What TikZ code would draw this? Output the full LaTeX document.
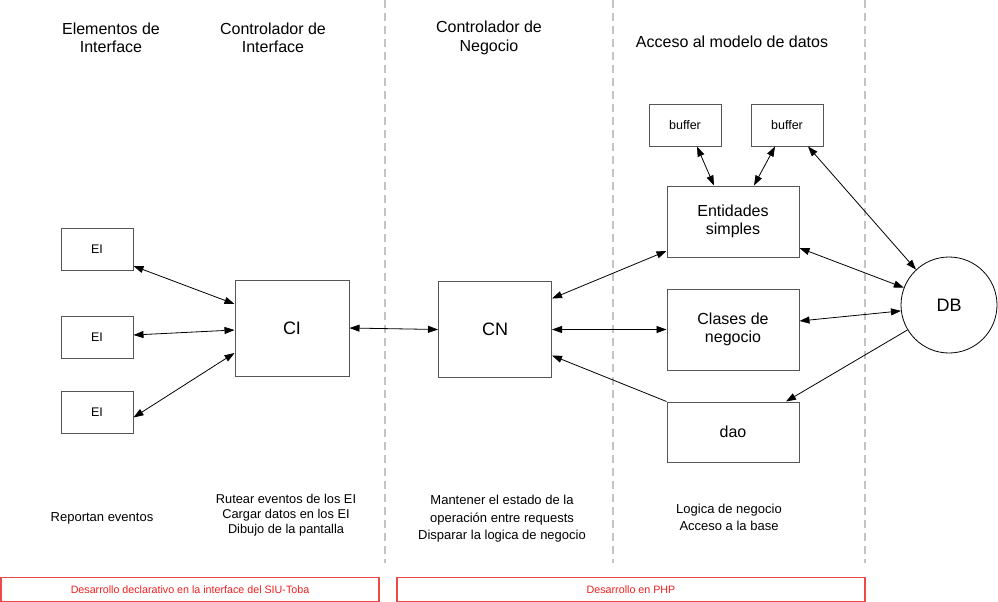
\documentclass[tikz,border=0pt]{standalone}
\usepackage{fontspec}
\setmainfont{Liberation Sans}
\usetikzlibrary{arrows.meta}
\definecolor{boxline}{HTML}{555555}
\definecolor{sepgray}{HTML}{C4C4C4}
\definecolor{redline}{HTML}{F04848}
\definecolor{redtext}{HTML}{F02020}
\tikzset{
  fbox/.style={draw=boxline, line width=1pt, fill=white, inner sep=0pt, align=center},
  smallbox/.style={fbox, minimum width=72pt, minimum height=42pt, font=\fontsize{12.5}{15}\selectfont},
  bigbox/.style={fbox, minimum width=132pt, font=\fontsize{16}{18}\selectfont},
  ctrlbox/.style={fbox, font=\fontsize{18}{20}\selectfont},
  heading/.style={align=center, font=\fontsize{16}{18.5}\selectfont, inner sep=0pt},
  note/.style={align=center, font=\fontsize{13}{17.5}\selectfont, inner sep=0pt},
  sepline/.style={draw=sepgray, line width=1.6pt, dash pattern=on 8pt off 5pt},
  redbox/.style={draw=redline, line width=1.2pt, inner sep=0pt, text=redtext, font=\fontsize{10.7}{12}\selectfont},
  conn/.style={draw=black, line width=0.8pt},
  tip/.style={-{Triangle[length=10pt,width=7pt]}},
  both/.style={{Triangle[length=10pt,width=7pt]}-{Triangle[length=10pt,width=7pt]}},
}
\begin{document}
\begin{tikzpicture}[x=1pt,y=-1pt]
\useasboundingbox (0,0) rectangle (998,602);
\fill[white] (0,0) rectangle (998,602);

% separators
\coordinate (s1t) at (385,0); \coordinate (s1b) at (385,563);
\coordinate (s2t) at (613,0); \coordinate (s2b) at (613,563);
\coordinate (s3t) at (865,0); \coordinate (s3b) at (865,563);
\draw[sepline] (s1t) -- (s1b);
\draw[sepline] (s2t) -- (s2b);
\draw[sepline] (s3t) -- (s3b);

% headings
\node[heading] (h1) at (111,38) {Elementos de\\Interface};
\node[heading] (h2) at (273,38) {Controlador de\\Interface};
\node[heading] (h3) at (489,38) {Controlador de\\Negocio};
\node[heading] (h4) at (732,42) {Acceso al modelo de datos};

% boxes
\node[smallbox] (ei1) at (97,249) {EI};
\node[smallbox] (ei2) at (97,337) {EI};
\node[smallbox] (ei3) at (97,412) {EI};
\node[ctrlbox, minimum width=114pt, minimum height=96pt] (ci) at (292,328) {CI};
\node[ctrlbox, minimum width=113pt, minimum height=96pt] (cn) at (495,329.5) {CN};
\node[smallbox] (buf1) at (685,125) {buffer};
\node[smallbox] (buf2) at (787,125) {buffer};
\node[bigbox, minimum height=71pt] (ent) at (733,221.5) {Entidades\\simples};
\node[bigbox, minimum height=81pt] (cla) at (733,329.5) {Clases de\\negocio};
\node[bigbox, minimum height=60pt] (dao) at (733,432) {dao};
\node[circle, draw=black, line width=0.8pt, minimum size=96pt, inner sep=0pt, font=\fontsize{18}{20}\selectfont] (db) at (949,305) {DB};

% connectors
\draw[conn, both] ([yshift=-17pt]ei1.east) -- ([yshift=24pt]ci.west);
\draw[conn, both] ([yshift=2pt]ei2.east) -- ([yshift=-2pt]ci.west);
\draw[conn, both] ([yshift=16pt]ei3.south east) -- ([yshift=-25pt]ci.west);
\draw[conn, both] (ci.east) -- (cn.west);
\draw[conn, both] ([yshift=31pt]cn.east) -- ([yshift=-29.5pt]ent.west);
\draw[conn, both] (cn.east) -- (cla.west);
\draw[conn, tip] (dao.north west) -- ([yshift=-26pt]cn.east);
\draw[conn, both] ([xshift=12pt]buf1.south) -- ([xshift=-19pt]ent.north);
\draw[conn, both] ([xshift=-12pt]buf2.south) -- ([xshift=21pt]ent.north);
\draw[conn, both] ([xshift=21pt]buf2.south) -- (db.133);
\draw[conn, both] ([yshift=-26.5pt]ent.east) -- (db.159);
\draw[conn, both] ([yshift=8.5pt]cla.east) -- (db.187);
\draw[conn, tip] (db.211) -- ([xshift=53pt]dao.north);

% notes
\node[note] (n1) at (102,518) {Reportan eventos};
\node[note, font=\fontsize{12.8}{15}\selectfont] (n2) at (286,515) {Rutear eventos de los EI\\Cargar datos en los EI\\Dibujo de la pantalla};
\node[note] (n3) at (502,519) {Mantener el estado de la\\operación entre requests\\Disparar la logica de negocio};
\node[note, font=\fontsize{13}{16.7}\selectfont] (n4) at (729,517) {Logica de negocio\\Acceso a la base};

% bottom bars
\node[redbox, minimum width=378pt, minimum height=24.5pt] (r1) at (190,589.5) {Desarrollo declarativo en la interface del SIU-Toba};
\node[redbox, minimum width=468pt, minimum height=24.5pt] (r2) at (631,589.5) {Desarrollo en PHP};
\end{tikzpicture}
\end{document}
